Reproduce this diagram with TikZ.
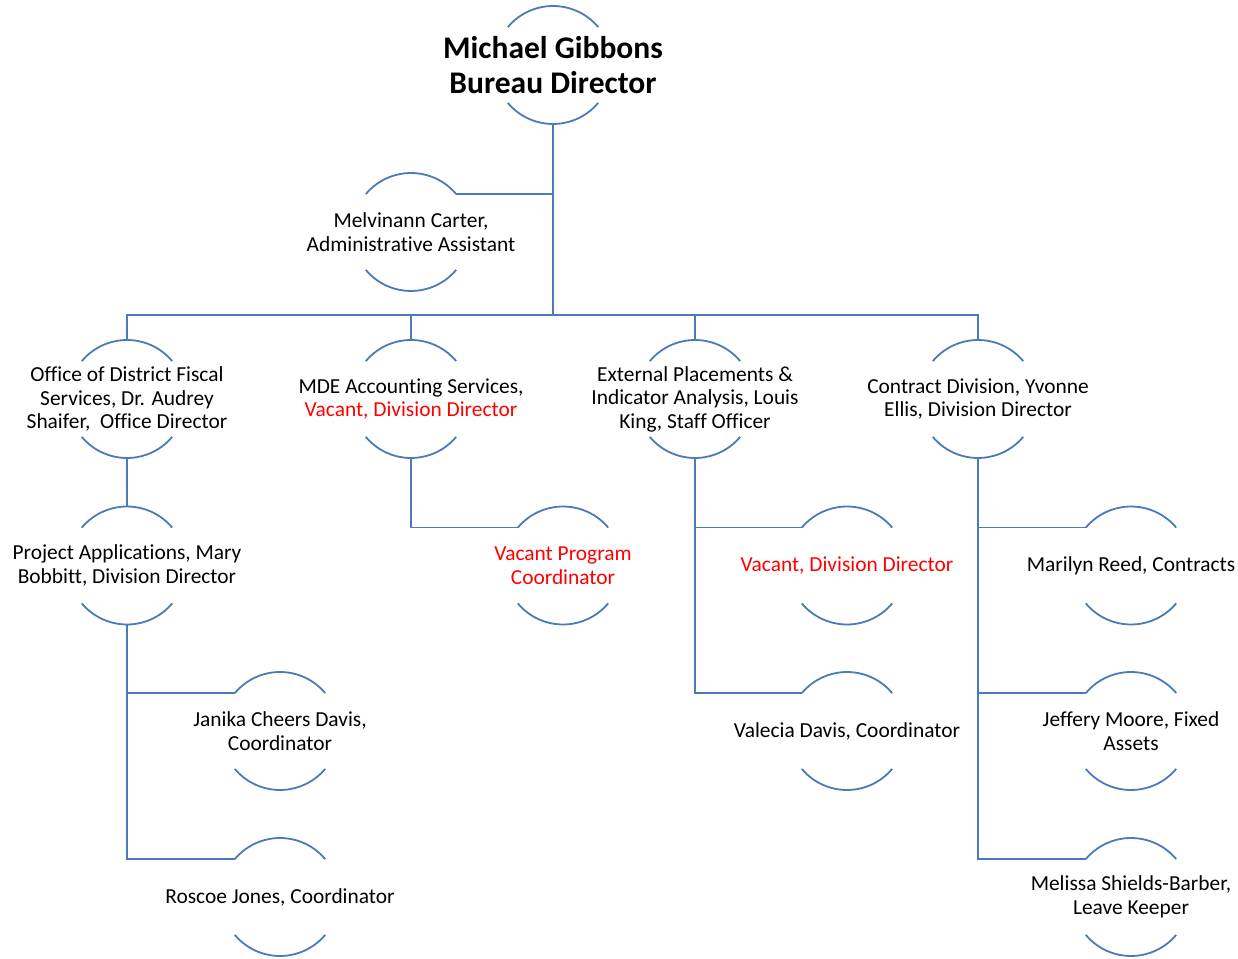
\documentclass[tikz,border=0pt]{standalone}
\usepackage{fontspec}
\setmainfont{Carlito}[Ligatures=NoCommon]
\usetikzlibrary{calc}
\definecolor{lnc}{RGB}{74,123,184}
\definecolor{vac}{RGB}{255,0,0}
\tikzset{
  ln/.style={draw=lnc,line width=1.8pt},
  circ/.style={circle,minimum size=118pt,inner sep=0pt,outer sep=0pt},
  txt/.style={align=center,font=\fontsize{21.4}{23.5}\selectfont,inner sep=0pt},
  big/.style={align=center,font=\fontsize{31.5}{35}\selectfont\bfseries,inner sep=0pt},
}
\newcommand{\orgarcs}[1]{%
  \draw[ln] (#1.40) arc[start angle=40,end angle=140,radius=59pt];
  \draw[ln] (#1.220) arc[start angle=220,end angle=320,radius=59pt];}
\begin{document}
\begin{tikzpicture}[x=1pt,y=1pt]
\useasboundingbox (0,0) rectangle (1238,958);
% circles
\node[circ] (dir) at (553,893) {};
\node[circ] (asst) at (411,726) {};
\node[circ] (fisc) at (127,559) {};
\node[circ] (mde) at (411,559) {};
\node[circ] (ext) at (695,559) {};
\node[circ] (con) at (978,559) {};
\node[circ] (proj) at (127,392.5) {};
\node[circ] (vpc) at (563,392.5) {};
\node[circ] (vdd) at (847,392.5) {};
\node[circ] (mr) at (1131,392.5) {};
\node[circ] (jcd) at (280,227) {};
\node[circ] (vd) at (847,227) {};
\node[circ] (jm) at (1131,227) {};
\node[circ] (rj) at (280,61) {};
\node[circ] (msb) at (1131,61) {};
\foreach \n in {dir,asst,fisc,mde,ext,con,proj,vpc,vdd,mr,jcd,vd,jm,rj,msb}{\orgarcs{\n}}
% texts
\node[big] (dir-t) at (dir) {Michael Gibbons\\Bureau Director};
\node[txt] (asst-t) at (asst) {Melvinann Carter,\\Administrative Assistant};
\node[txt] (fisc-t) at (fisc) {Office of District Fiscal\\Services, Dr. Audrey\\Shaifer,\ \ Office Director};
\node[txt] (mde-t) at (mde) {MDE Accounting Services,\\\textcolor{vac}{Vacant, Division Director}};
\node[txt] (ext-t) at (ext) {External Placements \&\\Indicator Analysis, Louis\\King, Staff Officer};
\node[txt] (con-t) at (con) {Contract Division, Yvonne\\Ellis, Division Director};
\node[txt] (proj-t) at (proj) {Project Applications, Mary\\Bobbitt, Division Director};
\node[txt,text=vac] (vpc-t) at (vpc) {Vacant Program\\Coordinator};
\node[txt,text=vac] (vdd-t) at (vdd) {Vacant, Division Director};
\node[txt] (mr-t) at (mr) {Marilyn Reed, Contracts};
\node[txt] (jcd-t) at (jcd) {Janika Cheers Davis,\\Coordinator};
\node[txt] (vd-t) at (vd) {Valecia Davis, Coordinator};
\node[txt] (jm-t) at (jm) {Jeffery Moore, Fixed\\Assets};
\node[txt] (rj-t) at (rj) {Roscoe Jones, Coordinator};
\node[txt] (msb-t) at (msb) {Melissa Shields-Barber,\\Leave Keeper};
% connectors
\coordinate (bus) at (553,643);
\draw[ln] (dir.south) -- (bus);
\draw[ln] (asst.40) -- (asst.40 -| dir.south);
\draw[ln] (fisc.north) -- (fisc.north |- bus) -- (con.north |- bus) -- (con.north);
\draw[ln] (mde.north) -- (mde.north |- bus);
\draw[ln] (ext.north) -- (ext.north |- bus);
\draw[ln] (fisc.south) -- (proj.north);
\draw[ln] (mde.south) |- (vpc.140);
\draw[ln] (ext.south) |- (vdd.140);
\draw[ln] (ext.south) |- (vd.140);
\draw[ln] (con.south) |- (mr.140);
\draw[ln] (con.south) |- (jm.140);
\draw[ln] (con.south) |- (msb.140);
\draw[ln] (proj.south) |- (jcd.140);
\draw[ln] (proj.south) |- (rj.140);
\end{tikzpicture}
\end{document}
